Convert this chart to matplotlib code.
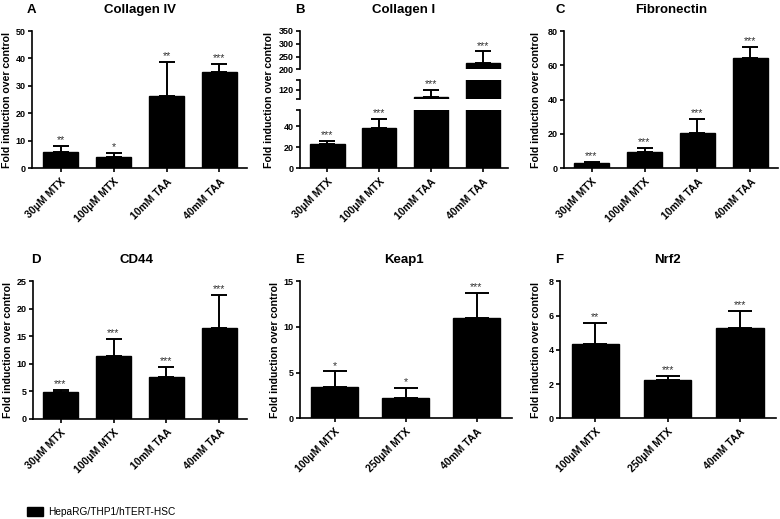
import numpy as np
import matplotlib
matplotlib.use('Agg')
import matplotlib.pyplot as plt
from matplotlib.patches import Patch

plt.rcParams['font.family'] = ['Liberation Sans', 'DejaVu Sans']

W, H = 780, 519

mu = '\u03bc'
labels_4 = [f'30{mu}M MTX', f'100{mu}M MTX', '10mM TAA', '40mM TAA']
labels_3 = [f'100{mu}M MTX', f'250{mu}M MTX', '40mM TAA']

# panel values (mean, upper error)
col4_mean = [6.05, 4.0, 26.3, 35.1]
col4_err = [2.05, 1.7, 12.4, 3.0]
col4_stars = ['**', '*', '**', '***']

col1_mean = [23.2, 38.1, 112.4, 226.0]
col1_err = [2.8, 8.9, 7.1, 44.0]
col1_stars = ['***', '***', '***', '***']

fn_mean = [3.1, 9.5, 20.3, 64.5]
fn_err = [0.8, 2.3, 8.6, 6.2]
fn_stars = ['***', '***', '***', '***']

cd44_mean = [4.96, 11.4, 7.7, 16.6]
cd44_err = [0.3, 3.2, 1.8, 6.0]
cd44_stars = ['***', '***', '***', '***']

keap_mean = [3.39, 2.18, 11.0]
keap_err = [1.74, 1.13, 2.77]
keap_stars = ['*', '*', '***']

nrf_mean = [4.31, 2.23, 5.30]
nrf_err = [1.24, 0.26, 0.97]
nrf_stars = ['**', '***', '***']

ylabel = 'Fold induction over control'


def fx(x):
    return x / W


def fy(y):
    return 1 - y / H


def make_ax(fig, left, right, top, bottom):
    return fig.add_axes([fx(left), fy(bottom), fx(right - left), (bottom - top) / H])


def style(ax, yticks, ylim, show_x=True, yticklabels=None):
    for s in ['top', 'right']:
        ax.spines[s].set_visible(False)
    ax.spines['left'].set_linewidth(1.2)
    ax.spines['bottom'].set_linewidth(1.2)
    ax.tick_params(axis='both', direction='out', length=3, width=1.2, pad=1.5)
    ax.set_ylim(*ylim)
    ax.set_yticks(yticks)
    if yticklabels is None:
        yticklabels = [str(t) for t in yticks]
    ax.set_yticklabels(yticklabels, fontsize=6.5, fontweight='bold')
    if not show_x:
        ax.spines['bottom'].set_visible(False)
        ax.tick_params(axis='x', bottom=False, labelbottom=False)


def draw_bars(ax, means, errs, stars, capsize):
    x = np.arange(len(means))
    ax.bar(x, means, width=0.66, color='black', edgecolor='black', zorder=2)
    ax.errorbar(x, means, yerr=[np.zeros(len(errs)), errs], fmt='none', ecolor='black',
                elinewidth=1.4, capsize=capsize, capthick=1.4, zorder=3)
    lo, hi = ax.get_ylim()
    for xi, m, e, s in zip(x, means, errs, stars):
        top = m + e
        if lo <= top <= hi:
            ax.annotate(s, (xi, top), xytext=(0, 2.0), textcoords='offset points',
                        ha='center', va='baseline', fontsize=7.8, color='#333333')


def set_xlabels(ax, labels, xlim):
    ax.set_xlim(*xlim)
    ax.set_xticks(np.arange(len(labels)))
    ax.set_xticklabels(labels, rotation=45, ha='right', rotation_mode='anchor',
                       fontsize=7.5, fontweight='bold')
    ax.tick_params(axis='x', pad=3)


def title(fig, letter, name, lx, cx, y):
    fig.text(fx(lx), fy(y), letter, fontsize=9.5, fontweight='bold', ha='left', va='center')
    fig.text(fx(cx), fy(y), name, fontsize=9.5, fontweight='bold', ha='center', va='center')


def ylab(fig, x, y):
    fig.text(fx(x), fy(y), ylabel, rotation=90, fontsize=7.6, fontweight='bold',
             ha='center', va='center')


fig = plt.figure(figsize=(W / 100, H / 100), dpi=100)

# A - Collagen IV
ax = make_ax(fig, 32, 247, 31, 168.3)
style(ax, [0, 10, 20, 30, 40, 50], (0, 50))
draw_bars(ax, col4_mean, col4_err, col4_stars, 5.8)
set_xlabels(ax, labels_4, (-0.54, 3.52))
title(fig, 'A', 'Collagen IV', 27, 140, 10)
ylab(fig, 7, 99.6)

# B - Collagen I (broken axis)
axb = make_ax(fig, 300, 508, 110, 168.3)
style(axb, [0, 20, 40, 55.5], (0, 55.5), yticklabels=['0', '20', '40', ''])
draw_bars(axb, col1_mean, col1_err, col1_stars, 5.8)
set_xlabels(axb, labels_4, (-0.53, 3.48))
axm = make_ax(fig, 300, 508, 80, 99.3)
style(axm, [110, 120, 130], (110, 130), show_x=False, yticklabels=['', '120', ''])
draw_bars(axm, col1_mean, col1_err, col1_stars, 5.8)
axm.set_xlim(-0.53, 3.48)
axt = make_ax(fig, 300, 508, 31, 69.3)
style(axt, [200, 250, 300, 350], (200, 350), show_x=False)
draw_bars(axt, col1_mean, col1_err, col1_stars, 5.8)
axt.set_xlim(-0.53, 3.48)
title(fig, 'B', 'Collagen I', 295, 404, 10)
ylab(fig, 269, 99.6)

# C - Fibronectin
ax = make_ax(fig, 564, 778, 31, 168.3)
style(ax, [0, 20, 40, 60, 80], (0, 80))
draw_bars(ax, fn_mean, fn_err, fn_stars, 5.8)
set_xlabels(ax, labels_4, (-0.52, 3.52))
title(fig, 'C', 'Fibronectin', 555, 671, 10)
ylab(fig, 536, 99.6)

# D - CD44
ax = make_ax(fig, 33, 247, 281.3, 419)
style(ax, [0, 5, 10, 15, 20, 25], (0, 25))
draw_bars(ax, cd44_mean, cd44_err, cd44_stars, 5.8)
set_xlabels(ax, labels_4, (-0.52, 3.52))
title(fig, 'D', 'CD44', 31, 136, 260)
ylab(fig, 8, 350)

# E - Keap1
ax = make_ax(fig, 300, 512, 281.3, 418.3)
style(ax, [0, 5, 10, 15], (0, 15))
draw_bars(ax, keap_mean, keap_err, keap_stars, 8.6)
set_xlabels(ax, labels_3, (-0.49, 2.5))
title(fig, 'E', 'Keap1', 295, 404, 260)
ylab(fig, 275, 350)

# F - Nrf2
ax = make_ax(fig, 560, 776, 281.3, 418.3)
style(ax, [0, 2, 4, 6, 8], (0, 8))
draw_bars(ax, nrf_mean, nrf_err, nrf_stars, 8.6)
set_xlabels(ax, labels_3, (-0.49, 2.5))
title(fig, 'F', 'Nrf2', 555, 667, 260)
ylab(fig, 536, 350)

handle = Patch(facecolor='black', edgecolor='black')
fig.legend([handle], ['HepaRG/THP1/hTERT-HSC'], loc='center left',
           bbox_to_anchor=(fx(22), fy(512)), frameon=False, fontsize=7.3,
           handlelength=1.6, handleheight=0.9, handletextpad=0.5, borderpad=0)

fig.savefig('out.png', dpi=100)
